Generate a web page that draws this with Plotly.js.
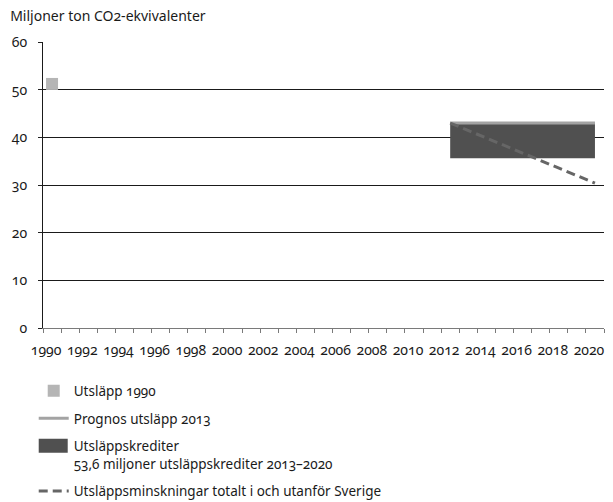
<!DOCTYPE html>
<html>
<head>
<meta charset="utf-8">
<script src="https://cdn.plot.ly/plotly-3.0.1.min.js"></script>
<style>
html,body{margin:0;padding:0;background:#fff;}
#chart{width:613px;height:502px;}
.main-svg text{font-variant-numeric:oldstyle-nums;font-feature-settings:"onum" 1;}
</style>
</head>
<body>
<div id="chart"></div>
<script>
// Data
const years1990 = [1990];
const emissions1990 = [51.2];

const creditYears = [2012, 2020];
const creditBase = [35.6, 35.6];       // lower edge of credits block
const creditTop = [43.0, 43.0];        // upper edge of credits block
const prognosYears = [2012, 2020];
const prognos2013 = [43.0, 43.0];
const reductionYears = [2012, 2020];
const reductionTotal = [43.0, 30.4];

const xTickVals = [1990,1992,1994,1996,1998,2000,2002,2004,2006,2008,2010,2012,2014,2016,2018,2020];
const xTickText = xTickVals.map(String);
const yTickVals = [0,10,20,30,40,50,60];

const FONT = '"Noto Sans", "Open Sans", sans-serif';
const TXT = '#1a1a1a';

const traces = [
  {
    x: years1990, y: emissions1990, type: 'scatter', mode: 'markers',
    name: 'Utsläpp 1990',
    marker: {symbol: 'square', size: 12, color: '#b5b5b5'},
    legendgroup: 'a', hoverinfo: 'skip'
  },
  {
    x: creditYears, y: creditBase, type: 'scatter', mode: 'lines',
    line: {width: 0, color: 'rgba(0,0,0,0)'},
    showlegend: false, hoverinfo: 'skip', legendgroup: 'c'
  },
  {
    x: creditYears, y: creditTop, type: 'scatter', mode: 'lines',
    name: 'Utsläppskrediter<br>53,6 miljoner utsläppskrediter 2013–2020',
    fill: 'tonexty', fillcolor: '#505050',
    line: {width: 1, color: '#8a8a8a'},
    legendgroup: 'c', hoverinfo: 'skip'
  },
  {
    x: prognosYears, y: prognos2013, type: 'scatter', mode: 'lines',
    name: 'Prognos utsläpp 2013',
    line: {width: 3, color: '#a3a3a3'},
    legendgroup: 'b', hoverinfo: 'skip'
  },
  {
    x: reductionYears, y: reductionTotal, type: 'scatter', mode: 'lines',
    name: 'Utsläppsminskningar totalt i och utanför Sverige',
    line: {width: 3, color: '#666666', dash: '9px,5px'},
    legendgroup: 'd', hoverinfo: 'skip'
  }
];
traces[0].legendrank = 1;
traces[3].legendrank = 2;
traces[2].legendrank = 3;
traces[4].legendrank = 4;

const layout = {
  width: 613, height: 502,
  margin: {l: 43, r: 9, t: 42, b: 174, autoexpand: false},
  paper_bgcolor: '#fff', plot_bgcolor: '#fff',
  font: {family: FONT, size: 13.5, color: TXT},
  showlegend: true,
  legend: {
    xref: 'container', yref: 'container',
    x: 0.055, y: 0.252, xanchor: 'left', yanchor: 'top',
    orientation: 'v', traceorder: 'grouped', tracegroupgap: 7,
    valign: 'top', bgcolor: 'rgba(0,0,0,0)', borderwidth: 0,
    font: {family: FONT, size: 13.5, color: TXT}
  },
  xaxis: {
    range: [1989.5, 2020.5], type: 'linear',
    tickvals: xTickVals, ticktext: xTickText, tickangle: 0,
    ticks: '', showgrid: false, zeroline: false,
    showline: true, linecolor: '#7a7a7a', linewidth: 1,
    minor: {tick0: 1989.5, dtick: 1, ticks: 'outside', ticklen: 4, tickcolor: '#7a7a7a', showgrid: false},
    ticklabelstandoff: 9, ticklabelshift: -6,
    tickfont: {family: FONT, size: 14, color: TXT},
    fixedrange: true
  },
  yaxis: {
    range: [0, 60], tickvals: yTickVals,
    ticks: 'outside', ticklen: 4, tickcolor: '#222',
    showgrid: true, gridcolor: '#1a1a1a', gridwidth: 1,
    zeroline: false, showline: true, linecolor: '#1a1a1a', linewidth: 1,
    ticklabelstandoff: 8,
    tickfont: {family: FONT, size: 14, color: TXT},
    fixedrange: true
  },
  annotations: [{
    text: 'Miljoner ton CO2-ekvivalenter',
    xref: 'paper', yref: 'paper', x: 0, y: 1,
    xanchor: 'left', yanchor: 'bottom', showarrow: false,
    xshift: -35, yshift: 15,
    font: {family: FONT, size: 14, color: TXT}
  }]
};

Plotly.newPlot('chart', traces, layout, {displayModeBar: false, staticPlot: true}).then(function (gd) {
  // enlarge the legend swatch of the filled block to a solid rectangle like the reference
  const items = gd.querySelectorAll('.legend .traces');
  items.forEach(function (it) {
    const f = it.querySelector('.legendfill path');
    if (f && f.getAttribute('d')) {
      f.setAttribute('d', 'M5,-7h29v14h-29z');
      const l = it.querySelector('.legendlines path');
      if (l) l.style.display = 'none';
    }
  });
});
</script>
</body>
</html>
